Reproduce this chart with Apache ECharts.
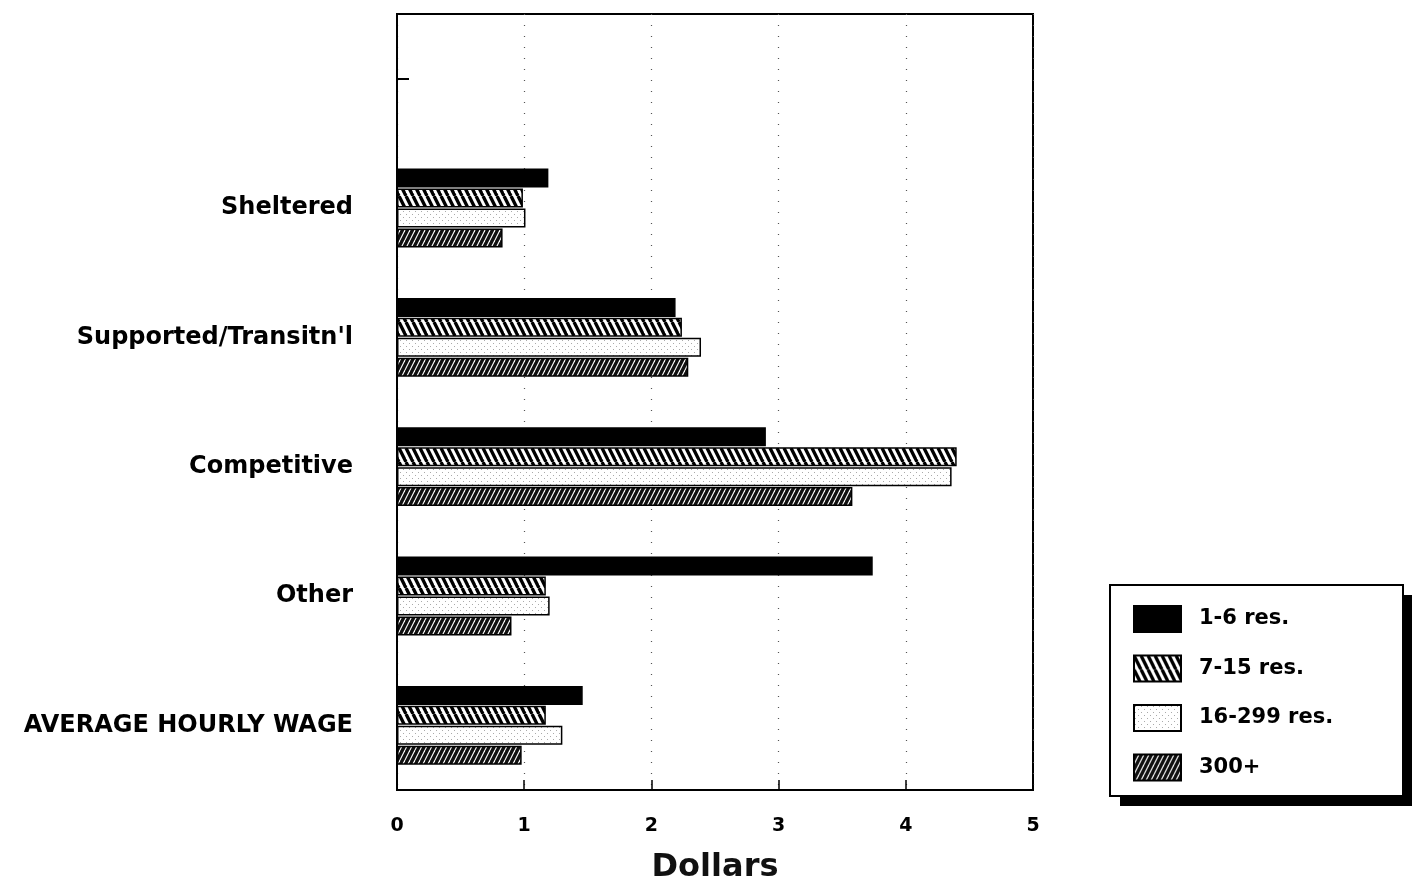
<!DOCTYPE html>
<html>
<head>
<meta charset="utf-8">
<script src="https://cdn.jsdelivr.net/npm/echarts@6/dist/echarts.min.js"></script>
<style>html,body{margin:0;padding:0;background:#fff}#c{width:1412px;height:885px}</style>
</head>
<body>
<div id="c"></div>
<script>
const categories = ['', 'Sheltered', "Supported/Transitn'l", 'Competitive', 'Other', 'AVERAGE HOURLY WAGE'];
const seriesNames = ['1-6 res.', '7-15 res.', '16-299 res.', '300+'];
const res1to6 = [null, 1.19, 2.19, 2.90, 3.74, 1.46];
const res7to15 = [null, 0.99, 2.24, 4.40, 1.17, 1.17];
const res16to299 = [null, 1.01, 2.39, 4.36, 1.20, 1.30];
const res300plus = [null, 0.83, 2.29, 3.58, 0.90, 0.98];
const xTicks = ['0', '1', '2', '3', '4', '5'];

function tile(w, h, draw) {
  const c = document.createElement('canvas');
  c.width = w; c.height = h;
  draw(c.getContext('2d'), w, h);
  return c;
}
const backHatch = tile(7, 14, (g, w, h) => {
  g.fillStyle = '#fff'; g.fillRect(0, 0, w, h);
  g.strokeStyle = '#000'; g.lineWidth = 3.4;
  for (let k = -2; k <= 2; k++) {
    g.beginPath(); g.moveTo(k * w, 0); g.lineTo(k * w + w, h); g.stroke();
  }
});
const fwdHatch = tile(5, 10, (g, w, h) => {
  g.fillStyle = '#111'; g.fillRect(0, 0, w, h);
  g.strokeStyle = '#fff'; g.lineWidth = 1.1;
  for (let k = -2; k <= 2; k++) {
    g.beginPath(); g.moveTo(k * w + w, 0); g.lineTo(k * w, h); g.stroke();
  }
});
const dots = tile(6, 6, (g, w, h) => {
  g.fillStyle = '#fff'; g.fillRect(0, 0, w, h);
  g.fillStyle = '#aaa'; g.fillRect(1, 1, 1, 1); g.fillRect(4, 4, 1, 1);
});

const fills = ['#000', { image: backHatch, repeat: 'repeat' }, { image: dots, repeat: 'repeat' }, { image: fwdHatch, repeat: 'repeat' }];
const dataSets = [res1to6, res7to15, res16to299, res300plus];

const font = 'DejaVu Sans';
const chart = echarts.init(document.getElementById('c'), null, { renderer: 'canvas' });
chart.setOption({
  animation: false,
  backgroundColor: '#fff',
  grid: { left: 397, right: 379, top: 14, bottom: 95, show: true, borderColor: '#000', borderWidth: 2,
    backgroundColor: 'transparent', containLabel: false, outerBoundsMode: 'none' },
  graphic: [
    { type: 'rect', z: 1, shape: { x: 1120, y: 595, width: 293, height: 211 }, style: { fill: '#000' } },
    { type: 'rect', z: 2, shape: { x: 1110, y: 585, width: 293, height: 211 }, style: { fill: '#fff', stroke: '#000', lineWidth: 2 } }
  ],
  xAxis: {
    type: 'value', min: 0, max: 5, interval: 1,
    name: 'Dollars', nameLocation: 'middle', nameGap: 62,
    nameTextStyle: { fontFamily: font, fontWeight: 'bold', fontSize: 32, color: '#111' },
    axisLine: { show: true, lineStyle: { color: '#000', width: 2 } },
    axisTick: { show: true, inside: true, length: 10, lineStyle: { color: '#000', width: 1.5 } },
    axisLabel: { fontFamily: font, fontWeight: 'bold', fontSize: 19, color: '#000', margin: 27,
      formatter: (v) => xTicks[Math.round(v)] },
    splitLine: { show: true, lineStyle: { color: '#555', type: [1, 10], width: 1.2 } }
  },
  yAxis: {
    type: 'category', data: categories, inverse: true,
    axisLine: { show: true, lineStyle: { color: '#000', width: 2 } },
    axisTick: { show: true, inside: true, alignWithLabel: true, length: 12,
      interval: (i) => i === 0, lineStyle: { color: '#000', width: 2 } },
    axisLabel: { fontFamily: font, fontWeight: 'bold', fontSize: 24, color: '#000', margin: 44 }
  },
  legend: {
    orient: 'vertical', left: 1133, top: 605, z: 10,
    data: seriesNames,
    itemWidth: 47, itemHeight: 26, itemGap: 21.5,
    padding: 0,
    textStyle: { fontFamily: font, fontWeight: 'bold', fontSize: 21, color: '#000', padding: [0, 0, 0, 13] },
    icon: 'rect'
  },
  series: dataSets.map((d, i) => ({
    type: 'bar', name: seriesNames[i], data: d,
    barWidth: 19, barGap: '5%',
    itemStyle: { color: fills[i], borderColor: '#000', borderWidth: 1.5 }
  }))
});
</script>
</body>
</html>
